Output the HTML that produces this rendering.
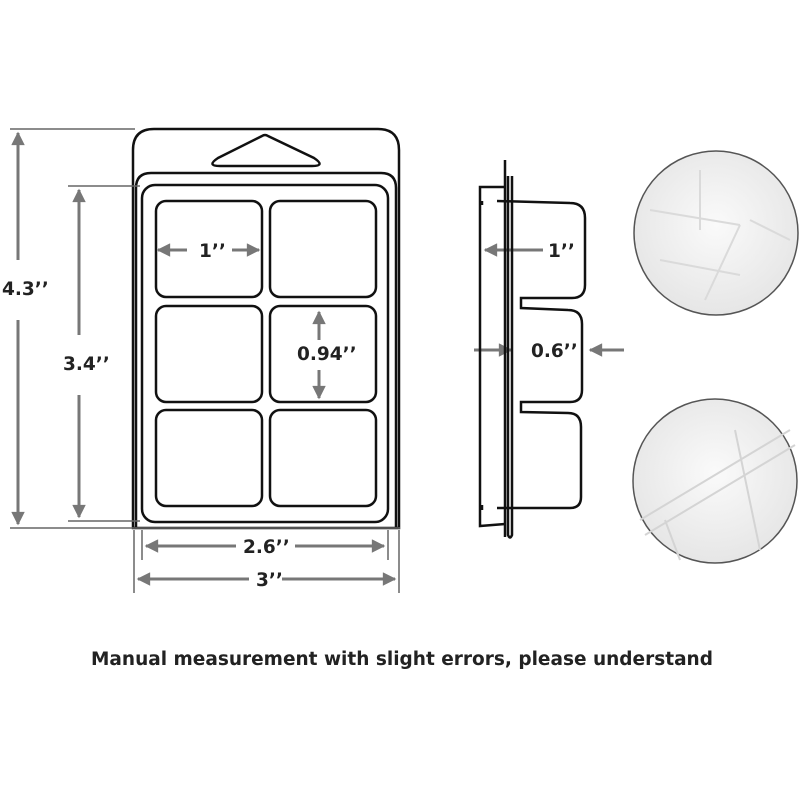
<!DOCTYPE html>
<html><head><meta charset="utf-8"><style>
html,body{margin:0;padding:0;background:#fff;width:800px;height:800px;overflow:hidden}
svg{display:block}
text{font-family:"DejaVu Sans","Liberation Sans",sans-serif;font-weight:bold;fill:#222}
</style></head><body>
<svg width="800" height="800" viewBox="0 0 800 800" xmlns="http://www.w3.org/2000/svg">
<defs>
<marker id="a" viewBox="0 0 10 10" refX="9" refY="5" markerWidth="5" markerHeight="4.5" orient="auto-start-reverse"><path d="M0,0 L10,5 L0,10 z" fill="#777"/></marker>
<radialGradient id="g1" cx="50%" cy="45%" r="55%"><stop offset="0" stop-color="#fafafa"/><stop offset="1" stop-color="#e6e6e6"/></radialGradient>
</defs>
<g fill="none" stroke="#111" stroke-width="2.5">
<path d="M133,528 L133,150 Q133,129 154,129 L378,129 Q399,129 399,150 L399,528 Z"/>
<path d="M136,528 L136,188 Q136,173 151,173 L381,173 Q396,173 396,188 L396,528"/>
<path d="M218,158 L262,136 Q265,134 268,136 L314,158 Q326,166 312,166 L220,166 Q206,166 218,158 Z"/>
<rect x="142" y="185" width="246" height="337" rx="13"/>
<rect x="156" y="201" width="106" height="96" rx="10"/>
<rect x="270" y="201" width="106" height="96" rx="10"/>
<rect x="156" y="306" width="106" height="96" rx="10"/>
<rect x="270" y="306" width="106" height="96" rx="10"/>
<rect x="156" y="410" width="106" height="96" rx="10"/>
<rect x="270" y="410" width="106" height="96" rx="10"/>
</g>
<g stroke="#666" stroke-width="1.5" fill="none">
<line x1="10" y1="129" x2="135" y2="129"/>
<line x1="10" y1="528" x2="400" y2="528"/>
<line x1="68" y1="186" x2="140" y2="186"/>
<line x1="68" y1="521" x2="140" y2="521"/>
<line x1="142" y1="530" x2="142" y2="560"/>
<line x1="388" y1="530" x2="388" y2="560"/>
<line x1="134" y1="530" x2="134" y2="593"/>
<line x1="399" y1="530" x2="399" y2="593"/>
</g>
<g stroke="#777" stroke-width="3" fill="none" marker-end="url(#a)">
<line x1="18" y1="260" x2="18" y2="133"/>
<line x1="18" y1="320" x2="18" y2="524"/>
<line x1="79" y1="335" x2="79" y2="190"/>
<line x1="79" y1="395" x2="79" y2="517"/>
<line x1="236" y1="546" x2="146" y2="546"/>
<line x1="295" y1="546" x2="384" y2="546"/>
<line x1="249" y1="579" x2="138" y2="579"/>
<line x1="282" y1="579" x2="395" y2="579"/>
<line x1="187" y1="250" x2="158" y2="250"/>
<line x1="232" y1="250" x2="259" y2="250"/>
<line x1="319" y1="340" x2="319" y2="312"/>
<line x1="319" y1="370" x2="319" y2="398"/>
<line x1="543" y1="250" x2="485" y2="250"/>
<line x1="474" y1="350" x2="511" y2="350"/>
<line x1="624" y1="350" x2="590" y2="350"/>
</g>
<g font-size="18.5">
<text x="2" y="295">4.3’’</text>
<text x="63" y="370">3.4’’</text>
<text x="199" y="257">1’’</text>
<text x="297" y="360">0.94’’</text>
<text x="243" y="553">2.6’’</text>
<text x="256" y="586">3’’</text>
<text x="548" y="257">1’’</text>
<text x="531" y="357">0.6’’</text>
</g>
<g fill="none" stroke="#111" stroke-width="2.5">
<line x1="505" y1="160" x2="505" y2="537"/>
<path d="M508,176 L508,535 Q510,540 512,535 L512,176"/>
<path d="M505,187 L480,187 L480,526 L505,524"/>
<path d="M482,201 L482,205 M497,201 L570,203 Q585,203 585,218 L585,285 Q585,298 572,298 L521,298 L521,308 L568,310 Q582,310 582,324 L582,390 Q582,402 570,402 L521,402 L521,412 L568,413 Q581,413 581,427 L581,497 Q581,508 570,508 L497,508 M482,505 L482,510"/>
</g>
<circle cx="716" cy="233" r="82" fill="url(#g1)" stroke="#555" stroke-width="1.5"/>
<g stroke="#dadada" stroke-width="2" fill="none">
<path d="M650,210 L740,225 M660,260 L740,275 M740,225 L705,300 M750,220 L790,240 M700,170 L700,230"/>
</g>
<circle cx="715" cy="481" r="82" fill="url(#g1)" stroke="#555" stroke-width="1.5"/>
<g stroke="#d4d4d4" stroke-width="2" fill="none">
<path d="M640,520 L790,430 M645,535 L795,445 M735,430 L760,550 M665,520 L680,560"/>
</g>
<text x="402" y="665" font-size="18.5" text-anchor="middle">Manual measurement with slight errors, please understand</text>
</svg>
</body></html>
